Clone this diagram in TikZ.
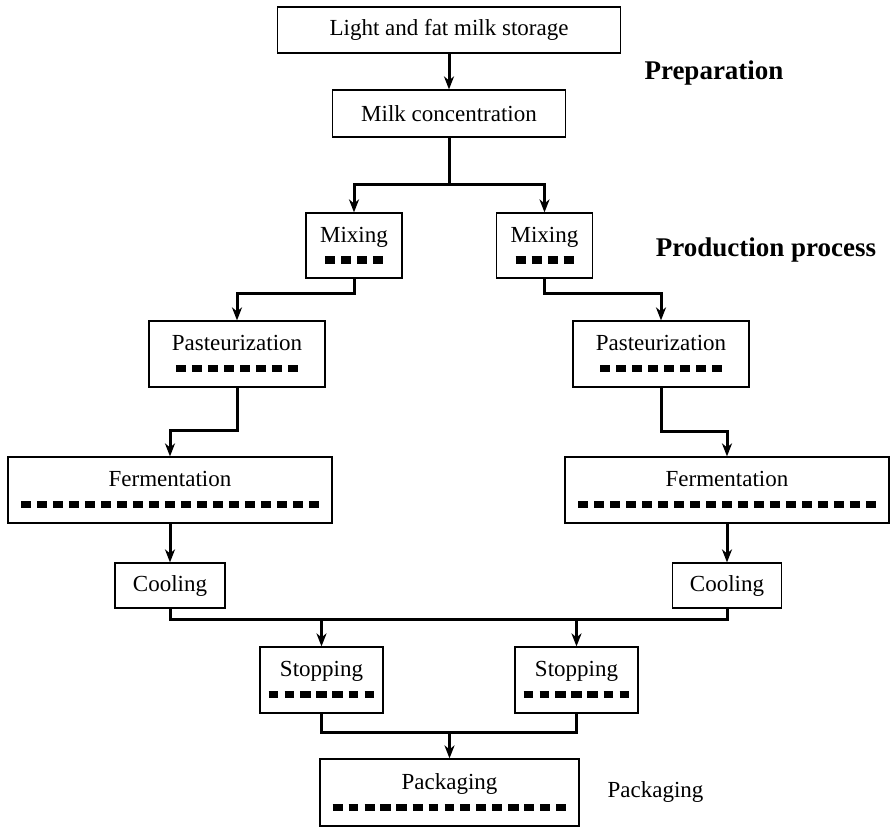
\documentclass[tikz,border=0pt]{standalone}
\usepackage{fontspec}
\setmainfont{Liberation Serif}
\usetikzlibrary{arrows.meta}

\newcommand{\blocks}[1]{\foreach \k in {1,...,#1}{\ifnum\k>1 \hspace{3pt}\fi\rule{5pt}{3.75pt}}}

\begin{document}
\begin{tikzpicture}[
        x = 0.5pt,
        y = -0.5pt,
        every node/.style = {font = \fontsize{11.5pt}{10.75pt}\selectfont},
        box/.style = {draw, line width = 0.6pt, inner sep = 0pt, align = center},
        link/.style = {line width = 1.5pt},
        flow/.style = {link, -{Stealth[length = 6.5pt, width = 5pt, inset = 2pt]}},
        title/.style = {font = \fontsize{13.5pt}{16pt}\selectfont\bfseries}
    ]
    \useasboundingbox (0,0) rectangle (891,827);

    \node[box, minimum width = 171.5pt, minimum height = 23pt] (store) at (449,30) {Light and fat milk storage};
    \node[box, minimum width = 116.5pt, minimum height = 23.5pt] (conc) at (449,113.5) {Milk concentration};

    \node[box, minimum width = 48pt, minimum height = 32.5pt] (mixL) at (354,245.5) {Mixing\\\blocks{4}};
    \node[box, minimum width = 48pt, minimum height = 32.5pt] (mixR) at (544.5,245.5) {Mixing\\\blocks{4}};
    \node[box, minimum width = 88pt, minimum height = 33pt] (pastL) at (237,354) {Pasteurization\\\blocks{8}};
    \node[box, minimum width = 88pt, minimum height = 33pt] (pastR) at (661,354) {Pasteurization\\\blocks{8}};
    \node[box, minimum width = 162pt, minimum height = 33pt] (fermL) at (170,490) {Fermentation\\\blocks{19}};
    \node[box, minimum width = 162pt, minimum height = 33pt] (fermR) at (727,490) {Fermentation\\\blocks{19}};
    \node[box, minimum width = 55pt, minimum height = 22.5pt] (coolL) at (170,585.5) {Cooling};
    \node[box, minimum width = 54.5pt, minimum height = 22.5pt] (coolR) at (727,585.5) {Cooling};
    \node[box, minimum width = 61.5pt, minimum height = 33pt] (stopL) at (321.5,680) {Stopping\\\blocks{7}};
    \node[box, minimum width = 61.5pt, minimum height = 33pt] (stopR) at (576.5,680) {Stopping\\\blocks{7}};
    \node[box, minimum width = 129.5pt, minimum height = 33.5pt] (pack) at (449.5,792.5) {Packaging\\\blocks{15}};

    \node[title] (prep) at (714,73) {Preparation};
    \node[title] (prod) at (766,250) {Production process};
    \node (packing) at (655.5,792) {Packaging};

    \coordinate (split) at (449,184);
    \coordinate (bus) at (449,619);
    \coordinate (join) at (449.5,732);

    \draw[flow] (store.south) -- (conc.north);
    \draw[link] (conc.south) -- (split);
    \draw[flow] (split) -| (mixL.north);
    \draw[flow] (split) -| (mixR.north);

    \draw[flow] (mixL.south) -- ++(0,15) -| (pastL.north);
    \draw[flow] (mixR.south) -- ++(0,15) -| (pastR.north);
    \draw[flow] (pastL.south) -- ++(0,43) -| (fermL.north);
    \draw[flow] (pastR.south) -- ++(0,44) -| (fermR.north);
    \draw[flow] (fermL.south) -- (coolL.north);
    \draw[flow] (fermR.south) -- (coolR.north);

    \draw[link] (coolL.south) |- (bus) -| (coolR.south);
    \draw[flow] (bus -| stopL.north) -- (stopL.north);
    \draw[flow] (bus -| stopR.north) -- (stopR.north);
    \draw[link] (stopL.south) |- (join) -| (stopR.south);
    \draw[flow] (join) -- (pack.north);
\end{tikzpicture}
\end{document}
